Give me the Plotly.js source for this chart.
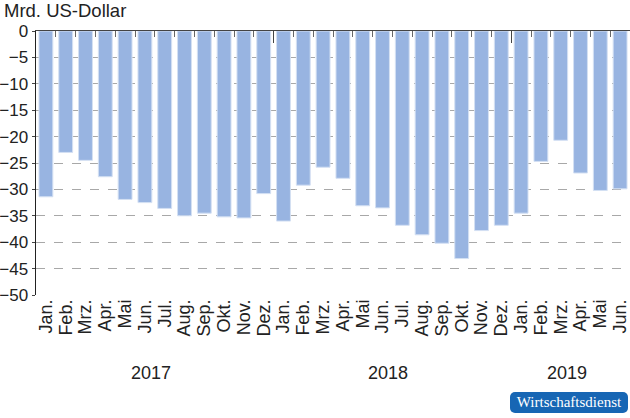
<!DOCTYPE html>
<html>
<head>
<meta charset="utf-8">
<script src="https://cdn.plot.ly/plotly-3.0.1.min.js"></script>
<style>
  html, body { margin: 0; padding: 0; background: #fff; }
  #wrap { position: relative; width: 630px; height: 418px; }
  #chart { width: 630px; height: 418px; }
  #logo {
    position: absolute; left: 510px; top: 392px; width: 118px; height: 21px;
    background: #1766b4; border-radius: 5px; color: #fff;
    font-family: "Liberation Serif", "DejaVu Serif", serif; font-size: 15px;
    line-height: 21px; text-align: center;
  }
</style>
</head>
<body>
<div id="wrap">
  <div id="chart"></div>
  <div id="logo">Wirtschaftsdienst</div>
</div>
<script>
const months = ["Jan.","Feb.","Mrz.","Apr.","Mai","Jun.","Jul.","Aug.","Sep.","Okt.","Nov.","Dez.",
                "Jan.","Feb.","Mrz.","Apr.","Mai","Jun.","Jul.","Aug.","Sep.","Okt.","Nov.","Dez.",
                "Jan.","Feb.","Mrz.","Apr.","Mai","Jun."];
const values = [-31.4, -23.0, -24.5, -27.6, -31.9, -32.5, -33.6, -35.0, -34.5, -35.2, -35.4, -30.8,
                -36.0, -29.2, -25.8, -27.9, -33.1, -33.5, -36.8, -38.6, -40.2, -43.1, -37.8, -36.8,
                -34.5, -24.7, -20.7, -26.9, -30.2, -29.9];
const years = ["2017", "2018", "2019"];
const yearCenters = [5.3, 17.3, 26.3];
const yearBoundaries = [11.5, 23.5];
const yTicks = [0, -5, -10, -15, -20, -25, -30, -35, -40, -45, -50];

const idx = months.map((_, i) => i);
const font = "Liberation Sans, Arial, Helvetica, sans-serif";

const traces = [
  {
    type: "bar", x: idx, y: values, width: 0.7,
    marker: { color: "#98b4e1", line: { color: "#d4e0f3", width: 1 } },
    hoverinfo: "skip"
  },
  {
    type: "scatter", mode: "markers", x: [0], y: [0], xaxis: "x2",
    marker: { opacity: 0 }, hoverinfo: "skip", showlegend: false
  }
];

const layout = {
  width: 630, height: 418,
  margin: { l: 36, r: 0, t: 31, b: 123, pad: 0 },
  paper_bgcolor: "#fff", plot_bgcolor: "#fff",
  showlegend: false,
  font: { family: font, color: "#222", size: 18 },
  xaxis: {
    range: [-0.5, 29.5],
    tickmode: "array", tickvals: idx, ticktext: months,
    tickangle: -90, ticks: "", showgrid: false, zeroline: false, showline: false,
    tickfont: { size: 18, family: font, color: "#222" }
  },
  xaxis2: {
    overlaying: "x", side: "top", anchor: "y", range: [-0.5, 29.5],
    showline: true, linecolor: "#444", linewidth: 1.5,
    tickmode: "array", tickvals: yearBoundaries, ticks: "inside", ticklen: 12,
    tickcolor: "#444", tickwidth: 1, showticklabels: false, showgrid: false, zeroline: false,
    minor: { tick0: 0.5, dtick: 1, ticks: "inside", ticklen: 6, tickcolor: "#666", tickwidth: 1, showgrid: false }
  },
  yaxis: {
    range: [-50, 0], tickmode: "array", tickvals: yTicks,
    showline: true, linecolor: "#222", linewidth: 1.5,
    showgrid: true, gridcolor: "#a8a8a8", griddash: "dash", gridwidth: 1,
    zeroline: false, ticks: "outside", ticklen: 3, tickcolor: "#444", tickwidth: 1,
    tickfont: { size: 17, family: font, color: "#222" }
  },
  annotations: [
    {
      text: "Mrd. US-Dollar", xref: "paper", yref: "paper", x: -0.057, y: 1.076,
      xanchor: "left", yanchor: "middle", showarrow: false,
      font: { size: 18.5, family: font, color: "#222" }
    }
  ].concat(years.map((yr, i) => ({
    text: yr, xref: "x", yref: "paper", x: yearCenters[i], y: -0.297,
    xanchor: "center", yanchor: "middle", showarrow: false,
    font: { size: 18, family: font, color: "#222" }
  })))
};

Plotly.newPlot("chart", traces, layout, { displayModeBar: false, staticPlot: true });
</script>
</body>
</html>
